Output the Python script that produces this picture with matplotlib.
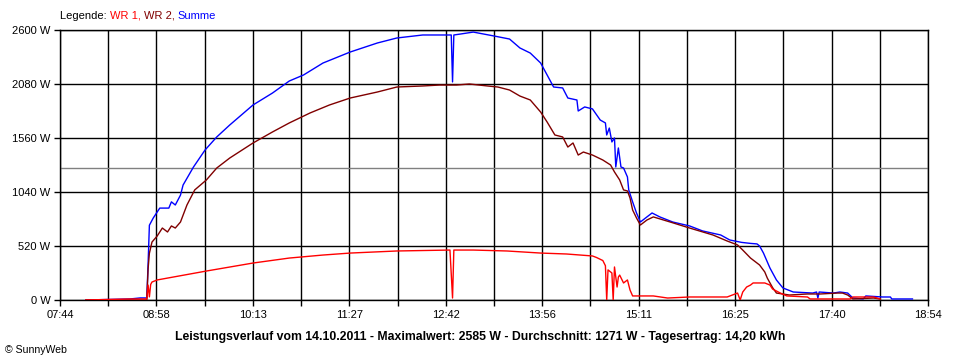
import matplotlib
matplotlib.use("Agg")
import matplotlib.pyplot as plt
from matplotlib.offsetbox import TextArea, HPacker, AnchoredOffsetbox
import numpy as np

plt.rcParams['font.family'] = ['Liberation Sans', 'DejaVu Sans']

# Leistungsverlauf 14.10.2011
sum_t = ['08:04', '08:38', '08:46', '08:51', '08:52', '08:53', '08:56', '09:01', '09:03', '09:08',
         '09:10', '09:13', '09:17', '09:19', '09:27', '09:36', '09:45', '09:55', '10:13', '10:28',
         '10:41', '10:52', '11:07', '11:28', '11:49', '12:04', '12:24', '12:37', '12:46', '12:47',
         '12:48', '12:53', '13:03', '13:20', '13:31', '13:39', '13:47', '13:55', '14:00', '14:05',
         '14:12', '14:16', '14:23', '14:24', '14:29', '14:35', '14:41', '14:45', '14:46', '14:48',
         '14:50', '14:52', '14:53', '14:55', '14:57', '14:59', '15:02', '15:03', '15:06', '15:09',
         '15:12', '15:16', '15:21', '15:27', '15:37', '15:50', '16:00', '16:14', '16:21', '16:30',
         '16:37', '16:42', '16:44', '16:47', '16:52', '16:57', '17:02', '17:10', '17:25', '17:28',
         '17:29', '17:30', '17:41', '17:46', '17:52', '17:56', '18:04', '18:06', '18:19', '18:25',
         '18:26', '18:42']
sum_w = [0, 10, 20, 20, 350, 720, 790, 885, 885, 885,
         945, 915, 1010, 1107, 1280, 1445, 1570, 1685, 1878, 1993,
         2109, 2167, 2282, 2388, 2475, 2523, 2552, 2552, 2552, 2100,
         2552, 2561, 2580, 2540, 2513, 2427, 2378, 2282, 2167, 2051,
         2042, 1945, 1926, 1820, 1859, 1840, 1733, 1705, 1589, 1656,
         1522, 1560, 1281, 1464, 1281, 1271, 1185, 1060, 945, 838,
         751, 790, 838, 800, 751, 713, 665, 626, 578, 555,
         545, 540, 520, 452, 308, 193, 116, 77, 67, 77,
         19, 77, 67, 77, 67, 19, 10, 39, 29, 29,
         10, 10]

wr2_t = ['08:04', '08:51', '08:52', '08:53', '08:55', '08:59', '09:03', '09:07', '09:10', '09:13',
         '09:17', '09:22', '09:28', '09:37', '09:45', '09:55', '10:13', '10:28', '10:41', '10:57',
         '11:12', '11:28', '11:49', '12:04', '12:24', '12:37', '12:50', '13:00', '13:14', '13:22',
         '13:31', '13:39', '13:47', '13:55', '14:00', '14:06', '14:12', '14:16', '14:20', '14:24',
         '14:28', '14:35', '14:43', '14:49', '14:52', '14:56', '14:59', '15:02', '15:04', '15:06',
         '15:09', '15:12', '15:17', '15:22', '15:35', '15:50', '16:08', '16:19', '16:27', '16:31',
         '16:37', '16:44', '16:48', '16:50', '16:54', '16:57', '17:07', '17:21', '17:31', '17:44',
         '17:48', '17:52', '17:56', '18:12', '18:17']
wr2_w = [0, 0, 300, 450, 558, 616, 693, 655, 713, 693,
         751, 915, 1060, 1156, 1271, 1367, 1512, 1618, 1705, 1801,
         1878, 1945, 2003, 2051, 2061, 2070, 2070, 2080, 2061, 2051,
         2022, 1964, 1926, 1810, 1714, 1589, 1570, 1473, 1512, 1396,
         1425, 1396, 1348, 1300, 1233, 1156, 1060, 1050, 982, 867,
         790, 722, 770, 800, 751, 693, 626, 568, 530, 481,
         404, 337, 270, 210, 120, 67, 48, 58, 58, 67,
         67, 48, 10, 19, 10]

wr1_t = ['08:04', '08:38', '08:51', '08:52', '08:53', '08:54', '08:55', '08:59', '09:37', '10:13',
         '10:41', '11:07', '11:28', '12:04', '12:45', '12:47', '12:48', '13:03', '13:29', '13:55',
         '14:15', '14:35', '14:38', '14:43', '14:45', '14:46', '14:47', '14:50', '14:51', '14:52',
         '14:54', '14:55', '14:56', '14:59', '15:02', '15:04', '15:06', '15:22', '15:33', '15:50',
         '16:19', '16:23', '16:27', '16:29', '16:31', '16:34', '16:37', '16:39', '16:48', '16:52',
         '16:54', '17:00', '17:05', '17:21', '17:23', '17:54', '17:56', '18:12', '18:17']
wr1_w = [0, 10, 10, 144, 30, 150, 173, 193, 279, 356,
         404, 433, 452, 472, 481, 19, 481, 481, 472, 452,
         443, 424, 410, 380, 330, 0, 290, 260, 0, 318,
         125, 221, 240, 164, 193, 96, 39, 39, 19, 29,
         29, 48, 67, 0, 77, 125, 144, 164, 164, 144,
         106, 67, 39, 29, 10, 10, 29, 29, 10]

avg_w = 1271
x_labels = ['07:44', '08:58', '10:13', '11:27', '12:42', '13:56', '15:11', '16:25', '17:40', '18:54']
y_ticks = [0, 520, 1040, 1560, 2080, 2600]


def to_min(times):
    return [int(s[:2]) * 60 + int(s[3:]) for s in times]


fig = plt.figure(figsize=(9.6, 3.6), dpi=100)
ax = fig.add_axes([60 / 960, 60 / 360, 868 / 960, 270 / 360])

x0, x1 = to_min([x_labels[0], x_labels[-1]])
major = np.linspace(x0, x1, len(x_labels))
minor = (major[:-1] + major[1:]) / 2

ax.set_xlim(x0, x1)
ax.set_ylim(0, 2600)
ax.set_xticks(major)
ax.set_xticklabels(x_labels)
ax.set_xticks(minor, minor=True)
ax.set_yticks(y_ticks)
ax.set_yticklabels(['{} W'.format(v) for v in y_ticks])
ax.grid(True, which='both', color='black', lw=1)
ax.set_axisbelow(True)
ax.tick_params(which='both', direction='out', length=4, width=1, color='black',
               labelsize=8, pad=3)
for sp in ax.spines.values():
    sp.set_linewidth(1)
    sp.set_color('black')

ax.axhline(avg_w, color='#808080', lw=1, zorder=1.5)
ax.plot(to_min(sum_t), sum_w, color='#0000ff', lw=1, zorder=3)
ax.plot(to_min(wr2_t), wr2_w, color='#800000', lw=1, zorder=3)
ax.plot(to_min(wr1_t), wr1_w, color='#ff0000', lw=1, zorder=3)

# legend line at the top
parts = [TextArea('Legende: ', textprops=dict(color='black', size=8)),
         TextArea('WR 1, ', textprops=dict(color='#ff0000', size=8)),
         TextArea('WR 2, ', textprops=dict(color='#800000', size=8)),
         TextArea('Summe', textprops=dict(color='#0000ff', size=8))]
box = HPacker(children=parts, pad=0, sep=0)
anch = AnchoredOffsetbox(loc='center left', child=box, pad=0, borderpad=0, frameon=False,
                         bbox_to_anchor=(60 / 960, 1 - 16 / 360), bbox_transform=fig.transFigure)
fig.add_artist(anch)

fig.text(0.5, 1 - 337 / 360,
         'Leistungsverlauf vom 14.10.2011 - Maximalwert: 2585 W - Durchschnitt: 1271 W - Tagesertrag: 14,20 kWh',
         ha='center', va='center', fontsize=8.8, fontweight='bold')
fig.text(5 / 960, 1 - 350 / 360, '\u00a9 SunnyWeb', ha='left', va='center', fontsize=7.6)

fig.savefig('out.png', dpi=100)
